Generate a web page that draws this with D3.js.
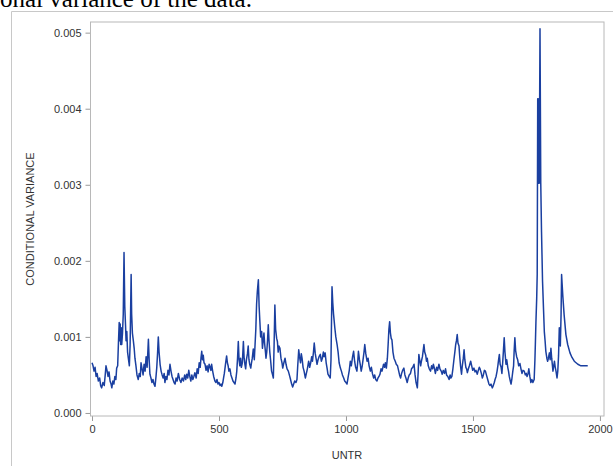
<!DOCTYPE html>
<html>
<head>
<meta charset="utf-8">
<script src="https://cdn.jsdelivr.net/npm/d3@7"></script>
<style>
  body { margin: 0; background: #fff; }
  svg { display: block; }
  .tick text { font-family: "Liberation Sans", Arial, sans-serif; font-size: 11px; fill: #333; }
  .tick line { stroke: #9a9a9a; }
</style>
</head>
<body>
<svg id="chart" width="613" height="466"></svg>
<script>
// UNTR index values (x)
var untr = [0,4,8,12,16,20,25,30,34,38,43,48,52,55,59,63,67,71,75,78,82,86,90,94,97,101,104,107,109,111,113,115,117,120,123,126,129,132,134,137,140,143,147,150,152,154,156,159,163,166,169,173,177,182,186,190,193,197,201,205,209,213,217,222,225,228,232,236,240,244,248,252,255,258,261,264,268,272,276,280,284,287,291,295,299,303,307,311,315,319,323,327,331,335,340,345,350,355,360,365,369,373,377,381,385,389,393,397,401,405,410,414,418,422,426,429,432,435,438,441,445,449,453,457,461,465,468,471,475,479,484,488,492,496,500,504,508,511,515,518,521,524,527,530,533,536,539,543,547,551,555,559,563,567,570,573,576,579,582,585,588,592,596,599,602,605,608,612,615,618,621,625,628,631,635,639,642,645,648,651,655,658,661,664,668,671,674,677,680,683,685,688,691,694,697,700,703,707,711,714,717,720,723,727,730,733,736,740,744,748,751,754,757,760,764,768,773,777,781,786,790,794,798,803,807,810,814,817,821,824,827,831,835,840,844,848,853,857,861,865,868,872,875,879,883,886,890,894,899,903,907,911,914,918,922,926,929,934,938,941,943,945,948,951,956,960,965,969,973,978,982,986,991,995,1000,1004,1008,1013,1017,1021,1026,1030,1034,1038,1043,1046,1049,1053,1057,1060,1064,1068,1071,1074,1078,1083,1087,1091,1096,1100,1104,1109,1113,1117,1122,1126,1130,1134,1138,1142,1148,1152,1155,1159,1163,1166,1169,1172,1175,1178,1181,1185,1189,1194,1198,1203,1207,1211,1215,1219,1223,1228,1232,1236,1241,1245,1249,1254,1258,1263,1268,1272,1276,1281,1284,1287,1290,1294,1297,1301,1304,1307,1310,1314,1317,1320,1324,1328,1333,1337,1341,1344,1348,1352,1357,1361,1366,1370,1375,1379,1383,1388,1392,1396,1401,1406,1410,1413,1417,1421,1425,1429,1432,1435,1438,1441,1445,1448,1451,1455,1458,1462,1465,1468,1472,1475,1478,1482,1486,1491,1495,1499,1504,1508,1512,1517,1521,1525,1528,1533,1537,1541,1545,1549,1553,1558,1563,1567,1571,1576,1580,1584,1587,1591,1595,1598,1601,1604,1607,1611,1614,1617,1620,1623,1626,1630,1633,1637,1640,1643,1647,1650,1653,1657,1660,1662,1665,1668,1672,1676,1680,1685,1689,1693,1697,1702,1706,1710,1713,1717,1720,1724,1728,1732,1736,1741,1744,1746,1748,1751,1753,1755,1757,1759,1761,1764,1767,1770,1774,1778,1781,1784,1787,1791,1794,1797,1801,1804,1807,1810,1813,1815,1818,1821,1824,1827,1831,1834,1837,1840,1842,1844,1847,1849,1851,1854,1859,1866,1873,1882,1890,1899,1913,1925,1940,1952];

// conditional variance (y)
var condVar = [0.00066,0.00062,0.00055,0.00060,0.00048,0.00052,0.00042,0.00046,0.00036,0.00033,0.00040,0.00036,0.00050,0.00062,0.00056,0.00048,0.00054,0.00042,0.00038,0.00033,0.00042,0.00038,0.00048,0.00044,0.00059,0.00062,0.00092,0.00119,0.00095,0.00117,0.00090,0.00112,0.00090,0.00105,0.00130,0.00211,0.00140,0.00115,0.00095,0.00107,0.00080,0.00072,0.00062,0.00090,0.00135,0.00182,0.00130,0.00105,0.00094,0.00085,0.00072,0.00062,0.00050,0.00044,0.00052,0.00048,0.00066,0.00058,0.00050,0.00064,0.00055,0.00074,0.00060,0.00097,0.00070,0.00051,0.00046,0.00040,0.00044,0.00038,0.00035,0.00048,0.00060,0.00078,0.00100,0.00080,0.00064,0.00055,0.00050,0.00046,0.00052,0.00040,0.00048,0.00044,0.00056,0.00050,0.00064,0.00055,0.00048,0.00044,0.00040,0.00038,0.00046,0.00042,0.00052,0.00044,0.00040,0.00046,0.00042,0.00050,0.00044,0.00051,0.00046,0.00056,0.00048,0.00042,0.00050,0.00044,0.00048,0.00053,0.00046,0.00058,0.00052,0.00066,0.00060,0.00072,0.00081,0.00070,0.00076,0.00066,0.00064,0.00056,0.00062,0.00054,0.00064,0.00060,0.00056,0.00064,0.00055,0.00048,0.00042,0.00040,0.00044,0.00038,0.00040,0.00036,0.00038,0.00035,0.00040,0.00046,0.00052,0.00060,0.00068,0.00075,0.00066,0.00062,0.00055,0.00058,0.00050,0.00046,0.00042,0.00040,0.00038,0.00046,0.00055,0.00072,0.00094,0.00070,0.00062,0.00072,0.00060,0.00066,0.00094,0.00072,0.00064,0.00058,0.00070,0.00078,0.00088,0.00070,0.00064,0.00059,0.00066,0.00072,0.00084,0.00070,0.00090,0.00110,0.00143,0.00160,0.00175,0.00140,0.00120,0.00100,0.00107,0.00085,0.00095,0.00105,0.00090,0.00080,0.00072,0.00080,0.00095,0.00116,0.00095,0.00080,0.00070,0.00055,0.00050,0.00046,0.00090,0.00142,0.00110,0.00098,0.00094,0.00080,0.00088,0.00085,0.00072,0.00066,0.00059,0.00064,0.00068,0.00072,0.00064,0.00058,0.00055,0.00050,0.00045,0.00038,0.00034,0.00038,0.00042,0.00040,0.00044,0.00062,0.00083,0.00074,0.00066,0.00078,0.00072,0.00060,0.00055,0.00046,0.00052,0.00058,0.00068,0.00060,0.00066,0.00074,0.00068,0.00080,0.00092,0.00078,0.00070,0.00064,0.00070,0.00074,0.00077,0.00068,0.00072,0.00080,0.00074,0.00079,0.00066,0.00058,0.00051,0.00048,0.00046,0.00070,0.00120,0.00166,0.00145,0.00130,0.00112,0.00100,0.00090,0.00080,0.00066,0.00059,0.00055,0.00050,0.00046,0.00042,0.00040,0.00038,0.00046,0.00056,0.00068,0.00062,0.00074,0.00081,0.00068,0.00060,0.00055,0.00066,0.00081,0.00070,0.00062,0.00055,0.00062,0.00072,0.00080,0.00090,0.00078,0.00068,0.00072,0.00062,0.00055,0.00060,0.00052,0.00046,0.00050,0.00044,0.00042,0.00046,0.00048,0.00051,0.00058,0.00055,0.00064,0.00060,0.00066,0.00059,0.00072,0.00090,0.00110,0.00120,0.00105,0.00098,0.00096,0.00080,0.00072,0.00068,0.00064,0.00062,0.00056,0.00050,0.00046,0.00052,0.00056,0.00059,0.00050,0.00046,0.00040,0.00046,0.00050,0.00052,0.00058,0.00060,0.00064,0.00050,0.00040,0.00033,0.00052,0.00077,0.00070,0.00062,0.00068,0.00074,0.00082,0.00090,0.00080,0.00076,0.00068,0.00072,0.00062,0.00058,0.00055,0.00062,0.00058,0.00064,0.00059,0.00052,0.00060,0.00056,0.00064,0.00058,0.00055,0.00051,0.00056,0.00052,0.00058,0.00050,0.00048,0.00044,0.00050,0.00046,0.00048,0.00058,0.00070,0.00081,0.00090,0.00095,0.00103,0.00092,0.00088,0.00074,0.00062,0.00051,0.00062,0.00072,0.00083,0.00070,0.00060,0.00058,0.00053,0.00058,0.00062,0.00068,0.00062,0.00056,0.00059,0.00054,0.00056,0.00051,0.00056,0.00060,0.00058,0.00052,0.00046,0.00050,0.00056,0.00055,0.00050,0.00044,0.00038,0.00036,0.00038,0.00033,0.00036,0.00040,0.00044,0.00048,0.00055,0.00062,0.00070,0.00077,0.00064,0.00060,0.00052,0.00066,0.00082,0.00099,0.00080,0.00064,0.00070,0.00060,0.00055,0.00048,0.00042,0.00038,0.00044,0.00055,0.00062,0.00080,0.00099,0.00082,0.00074,0.00070,0.00062,0.00065,0.00058,0.00052,0.00056,0.00055,0.00050,0.00052,0.00048,0.00052,0.00058,0.00048,0.00040,0.00044,0.00040,0.00044,0.00070,0.00094,0.00120,0.00151,0.00182,0.00413,0.00302,0.00413,0.00302,0.00505,0.00302,0.00238,0.00173,0.00135,0.00107,0.00095,0.00081,0.00072,0.00068,0.00072,0.00079,0.00070,0.00085,0.00072,0.00062,0.00055,0.00062,0.00068,0.00060,0.00055,0.00046,0.00055,0.00075,0.00112,0.00095,0.00088,0.00130,0.00182,0.00170,0.00153,0.00129,0.00103,0.00090,0.00079,0.00073,0.00068,0.00064,0.00062,0.00062,0.00062];

var yTicks = [0, 0.001, 0.002, 0.003, 0.004, 0.005];
var xTicks = [0, 500, 1000, 1500, 2000];

var svg = d3.select("#chart");

/* page text and frame around the figure */
svg.append("text").attr("x", 0).attr("y", 7)
  .style("font-family", "'Liberation Serif', 'Times New Roman', serif")
  .style("font-size", "25px").attr("fill", "#000")
  .text("onal variance of the data.");
svg.append("line").attr("x1", 11.5).attr("y1", 11.5).attr("x2", 613).attr("y2", 11.5).attr("stroke", "#c8c8c8");
svg.append("line").attr("x1", 11.5).attr("y1", 11.5).attr("x2", 11.5).attr("y2", 466).attr("stroke", "#c8c8c8");

var x = d3.scaleLinear().domain([-6, 2016]).range([90.5, 604]);
var y = d3.scaleLinear().domain([-0.00004, 0.00514]).range([416, 22]);

// x axis
svg.append("g").attr("transform", "translate(0,416)")
  .call(d3.axisBottom(x).tickValues(xTicks).tickFormat(d3.format("d")).tickSize(5).tickPadding(4))
  .call(function(g){ g.select(".domain").remove(); });

// y axis
svg.append("g").attr("transform", "translate(90.5,0)")
  .call(d3.axisLeft(y).tickValues(yTicks).tickFormat(d3.format(".3f")).tickSize(5).tickPadding(4))
  .call(function(g){ g.select(".domain").remove(); });

// plot border
svg.append("rect").attr("x", 90.5).attr("y", 22).attr("width", 513.5).attr("height", 394)
  .attr("fill", "none").attr("stroke", "#b8b8b8");

// the series
var pts = untr.map(function(t, i){ return [t, condVar[i]]; });
var line = d3.line().x(function(d){ return x(d[0]); }).y(function(d){ return y(d[1]); });
svg.append("path").datum(pts).attr("d", line)
  .attr("fill", "none").attr("stroke", "#1a3fa0").attr("stroke-width", 1.5)
  .attr("stroke-linejoin", "round");

// axis labels
svg.append("text").attr("x", 347).attr("y", 459).attr("text-anchor", "middle")
  .style("font-family", "'Liberation Sans', Arial, sans-serif").style("font-size", "11px").attr("fill", "#333")
  .text("UNTR");
svg.append("text").attr("transform", "translate(34,219) rotate(-90)").attr("text-anchor", "middle")
  .style("font-family", "'Liberation Sans', Arial, sans-serif").style("font-size", "11px").attr("fill", "#333")
  .text("CONDITIONAL VARIANCE");
</script>
</body>
</html>
